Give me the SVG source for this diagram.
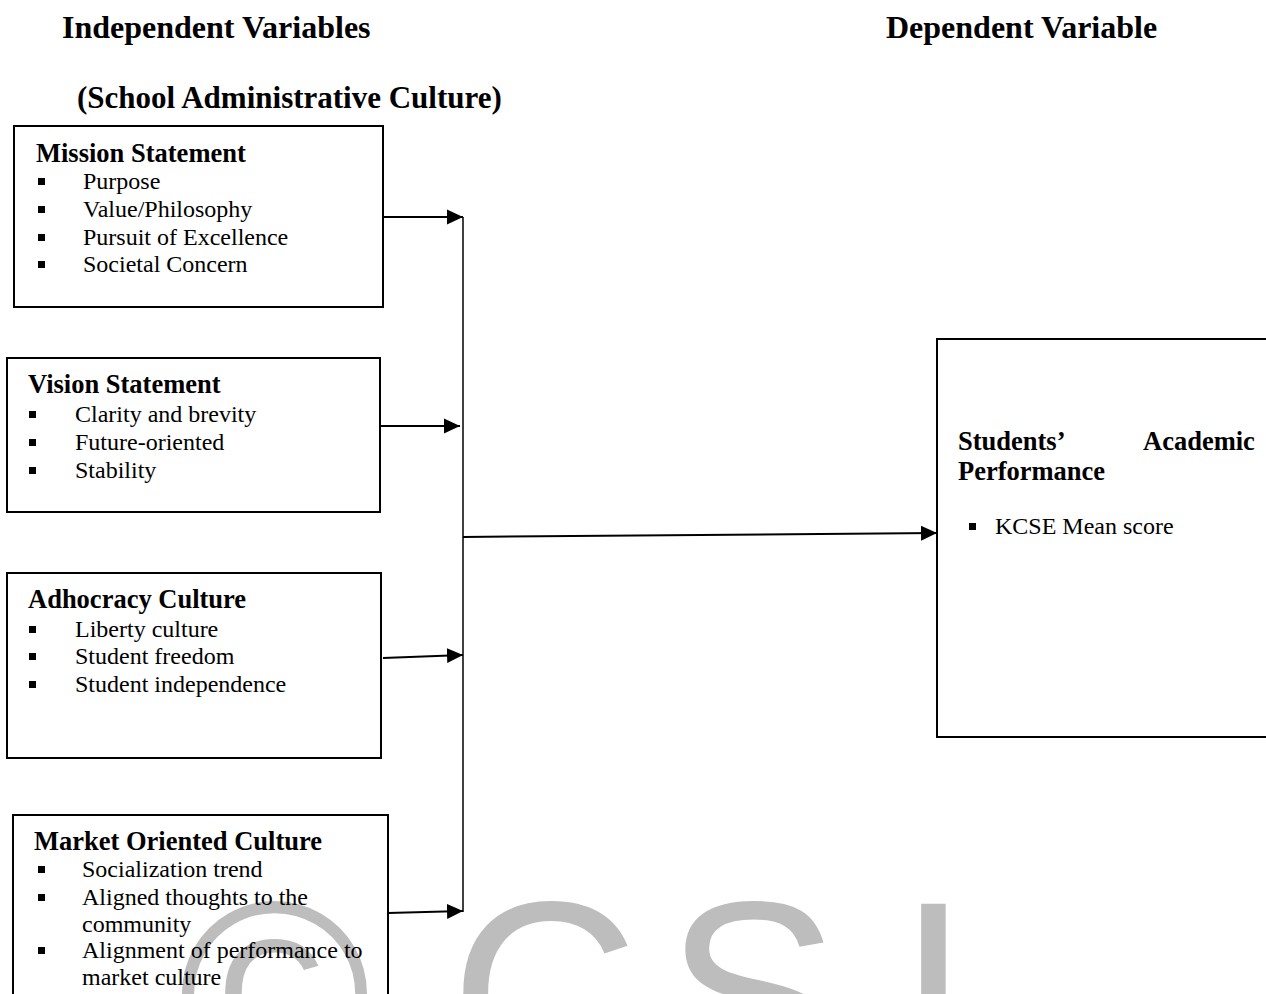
<svg xmlns="http://www.w3.org/2000/svg" width="1266" height="994" viewBox="0 0 1266 994">
<style>
.hdr{font-family:"Liberation Serif","Times New Roman",serif;font-weight:bold;font-size:32px;fill:#000}
.ttl{font-family:"Liberation Serif","Times New Roman",serif;font-weight:bold;font-size:26.5px;fill:#000}
.itm{font-family:"Liberation Serif","Times New Roman",serif;font-size:24px;fill:#000}
.box{fill:none;stroke:#000;stroke-width:2}
.bul{fill:#000}
.con{stroke:#000;stroke-width:2;fill:none}
.wm{font-family:"Liberation Sans",Arial,sans-serif;font-size:262px;fill:#bdbdbd}
</style>
<defs>
<marker id="ah" markerUnits="userSpaceOnUse" markerWidth="16" markerHeight="16" refX="16" refY="8" orient="auto">
<path d="M0,0.5 L16,8 L0,15.5 z" fill="#000"/>
</marker>
</defs>
<rect width="1266" height="994" fill="#fff"/>
<g id="watermark">
<text class="wm" x="178 450 665 897" y="1084">©CSI</text>
</g>
<g id="headers">
<text class="hdr" x="62" y="38">Independent Variables</text>
<text class="hdr" x="77" y="108" style="font-size:31px">(School Administrative Culture)</text>
<text class="hdr" x="886" y="38">Dependent Variable</text>
</g>
<g id="mission">
<rect class="box" x="14" y="126" width="369" height="181"/>
<text class="ttl" x="36" y="162">Mission Statement</text>
<rect class="bul" x="38" y="178" width="7" height="7"/>
<rect class="bul" x="38" y="206" width="7" height="7"/>
<rect class="bul" x="38" y="234" width="7" height="7"/>
<rect class="bul" x="38" y="261" width="7" height="7"/>
<text class="itm" x="83" y="189">Purpose</text>
<text class="itm" x="83" y="217">Value/Philosophy</text>
<text class="itm" x="83" y="245">Pursuit of Excellence</text>
<text class="itm" x="83" y="272">Societal Concern</text>
</g>
<g id="vision">
<rect class="box" x="7" y="358" width="373" height="154"/>
<text class="ttl" x="28" y="393">Vision Statement</text>
<rect class="bul" x="29" y="411" width="7" height="7"/>
<rect class="bul" x="29" y="439" width="7" height="7"/>
<rect class="bul" x="29" y="467" width="7" height="7"/>
<text class="itm" x="75" y="422">Clarity and brevity</text>
<text class="itm" x="75" y="450">Future-oriented</text>
<text class="itm" x="75" y="478">Stability</text>
</g>
<g id="adhocracy">
<rect class="box" x="7" y="573" width="374" height="185"/>
<text class="ttl" x="28" y="608">Adhocracy Culture</text>
<rect class="bul" x="29" y="626" width="7" height="7"/>
<rect class="bul" x="29" y="653" width="7" height="7"/>
<rect class="bul" x="29" y="681" width="7" height="7"/>
<text class="itm" x="75" y="637">Liberty culture</text>
<text class="itm" x="75" y="664">Student freedom</text>
<text class="itm" x="75" y="692">Student independence</text>
</g>
<g id="market">
<rect class="box" x="13" y="815" width="375" height="200"/>
<text class="ttl" x="34" y="850">Market Oriented Culture</text>
<rect class="bul" x="38" y="866" width="7" height="7"/>
<rect class="bul" x="38" y="894" width="7" height="7"/>
<rect class="bul" x="38" y="947" width="7" height="7"/>
<text class="itm" x="82" y="877">Socialization trend</text>
<text class="itm" x="82" y="905">Aligned thoughts to the</text>
<text class="itm" x="82" y="932">community</text>
<text class="itm" x="82" y="958">Alignment of performance to</text>
<text class="itm" x="82" y="985">market culture</text>
</g>
<g id="performance">
<rect class="box" x="937" y="339" width="345" height="398"/>
<text class="ttl" y="450"><tspan x="958">Students’</tspan><tspan x="1143">Academic</tspan></text>
<text class="ttl" x="958" y="480">Performance</text>
<rect class="bul" x="969" y="523" width="7" height="7"/>
<text class="itm" x="995" y="534">KCSE Mean score</text>
</g>
<g id="connectors">
<line class="con" x1="463" y1="217" x2="463" y2="912" style="stroke-width:1.5"/>
<line class="con" x1="383" y1="217" x2="463" y2="217" marker-end="url(#ah)"/>
<line class="con" x1="380" y1="426" x2="460" y2="426" marker-end="url(#ah)"/>
<line class="con" x1="383" y1="658" x2="463" y2="655" marker-end="url(#ah)"/>
<line class="con" x1="388" y1="913" x2="463" y2="911" marker-end="url(#ah)"/>
<line class="con" x1="463" y1="537" x2="937" y2="533" marker-end="url(#ah)"/>
</g>
</svg>
